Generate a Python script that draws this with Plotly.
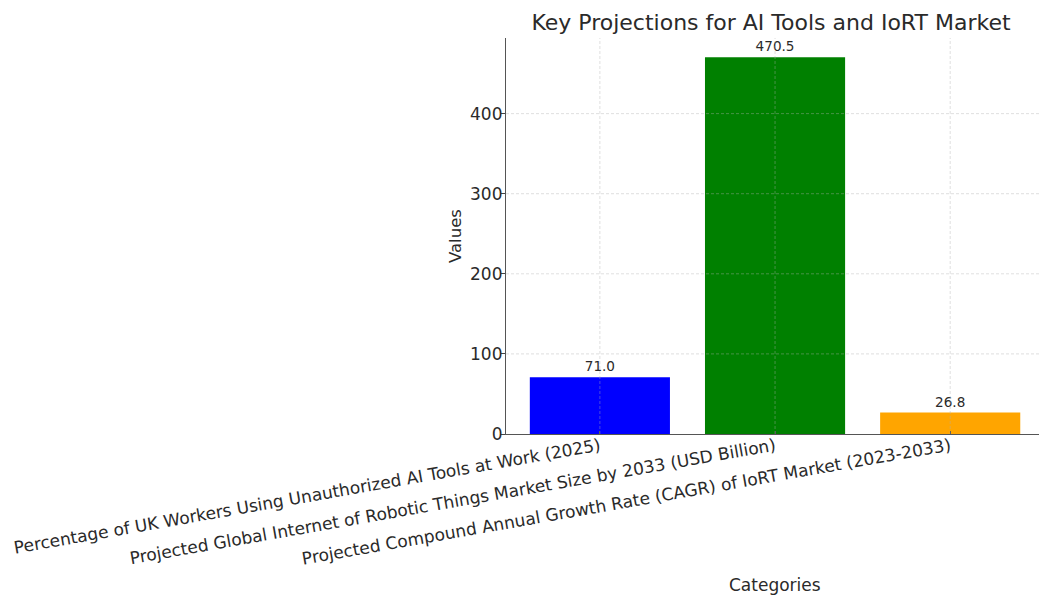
import plotly.graph_objects as go

# Chart data
categories = [
    "Percentage of UK Workers Using Unauthorized AI Tools at Work (2025)",
    "Projected Global Internet of Robotic Things Market Size by 2033 (USD Billion)",
    "Projected Compound Annual Growth Rate (CAGR) of IoRT Market (2023-2033)",
]
values = [71.0, 470.5, 26.8]
bar_colors = ["#0000ff", "#008000", "#ffa500"]
y_ticks = [0, 100, 200, 300, 400]

FONT = "DejaVu Sans"
TEXT = "#2a2a2a"
GRID = "rgba(176,176,176,0.5)"

W, H = 1039, 597
L, T, B = 506, 38, 163
x_pos = list(range(len(categories)))

fig = go.Figure()
fig.add_trace(go.Bar(
    x=x_pos,
    y=values,
    width=0.8,
    marker=dict(color=bar_colors, line=dict(width=0)),
    text=[f"{v:.1f}" for v in values],
    textposition="outside",
    textfont=dict(family=FONT, size=13.6, color=TEXT),
    cliponaxis=False,
    hoverinfo="skip",
))

# dashed grid drawn on top of the bars
shapes = []
for xv in x_pos:
    shapes.append(dict(type="line", xref="x", yref="paper", x0=xv, x1=xv, y0=0, y1=1,
                       line=dict(color=GRID, width=0.8, dash="3px,2px"), layer="above"))
for yv in y_ticks[1:]:
    shapes.append(dict(type="line", xref="paper", yref="y", x0=0, x1=1, y0=yv, y1=yv,
                       line=dict(color=GRID, width=0.8, dash="3px,2px"), layer="above"))

plot_w = W - L
fig.update_layout(
    width=W, height=H,
    margin=dict(l=L, r=0, t=T, b=B, autoexpand=False),
    plot_bgcolor="white", paper_bgcolor="white",
    showlegend=False,
    shapes=shapes,
    font=dict(family=FONT, color=TEXT),
    title=dict(text="Key Projections for AI Tools and IoRT Market",
               font=dict(family=FONT, size=22, color=TEXT),
               xref="container", yref="container",
               x=771 / W, xanchor="center", y=1 - 22 / H, yanchor="middle"),
    xaxis=dict(
        range=[-0.536, 2.507],
        tickmode="array", tickvals=x_pos, ticktext=categories,
        tickangle=-10,
        tickfont=dict(family=FONT, size=17, color=TEXT),
        ticklabelstandoff=-5,
        ticks="inside", ticklen=3, tickcolor="#444",
        showgrid=False, zeroline=False,
        showline=True, linecolor="#555", linewidth=1.2,
        automargin=False,
    ),
    yaxis=dict(
        range=[0, 494.4],
        tickmode="array", tickvals=y_ticks,
        tickfont=dict(family=FONT, size=17, color=TEXT),
        ticklabelstandoff=-5,
        ticks="outside", ticklen=4, tickcolor="#444",
        showgrid=False, zeroline=False,
        showline=True, linecolor="#555", linewidth=1.2,
        automargin=False,
    ),
    annotations=[
        dict(text="Values", xref="paper", yref="paper",
             x=(455 - L) / plot_w, y=0.5, xanchor="center", yanchor="middle",
             textangle=-90, showarrow=False,
             font=dict(family=FONT, size=16.5, color=TEXT)),
        dict(text="Categories", xref="paper", yref="paper",
             x=(775 - L) / plot_w, y=(433.5 - 584) / 396, xanchor="center", yanchor="middle",
             showarrow=False,
             font=dict(family=FONT, size=17, color=TEXT)),
    ],
)

fig.write_html("out.html")
